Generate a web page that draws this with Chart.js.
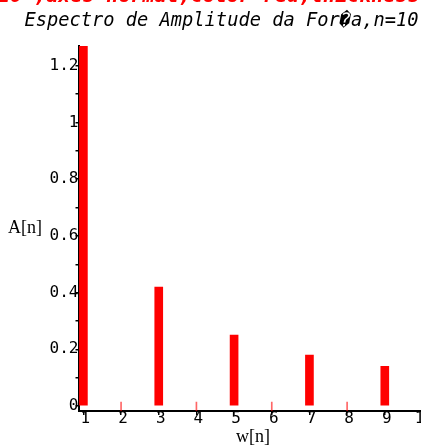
<!DOCTYPE html>
<html><head><meta charset="utf-8">
<script src="https://cdn.jsdelivr.net/npm/chart.js@4"></script>
<style>
html,body{margin:0;padding:0;background:#fff;overflow:hidden}
#wrap{width:421px;height:446px;overflow:hidden;position:relative;background:#fff}
canvas{display:block}
</style></head>
<body><div id="wrap"><canvas id="c" width="440" height="446"></canvas></div>
<script>
// Data
const oddN = [1, 3, 5, 7, 9];
const oddA = [1.27, 0.42, 0.25, 0.18, 0.14];
const evenN = [2, 4, 6, 8];
const evenA = [0, 0, 0, 0];
const xTicks = [1, 2, 3, 4, 5, 6, 7, 8, 9, 10];
const xTickLabels = ['1','2','3','4','5','6','7','8','9','10'];
const yTicks = [0, 0.1, 0.2, 0.3, 0.4, 0.5, 0.6, 0.7, 0.8, 0.9, 1.0, 1.1, 1.2];
const yTickLabels = ['0','','0.2','','0.4','','0.6','','0.8','','1','','1.2'];
const titleText = 'Espectro de Amplitude da For\uFFFDa,n=10';
const headerText = '10 ,axes=normal,color=red,thickness=3);';
const yTitle = 'A[n]';
const xTitle = 'w[n]';

const mono = '"DejaVu Sans Mono", monospace';
const serif = '"Liberation Serif", "Times New Roman", serif';

const textPlugin = {
  id: 'texts',
  afterDraw(chart) {
    const ctx = chart.ctx;
    ctx.save();
    ctx.fillStyle = '#ff0000';
    ctx.font = 'bold italic 20px ' + mono;
    ctx.textAlign = 'left';
    ctx.textBaseline = 'alphabetic';
    ctx.fillText(headerText, -2, 2);
    ctx.fillStyle = '#000';
    ctx.font = 'italic 18.7px ' + mono;
    ctx.textAlign = 'center';
    ctx.fillText(titleText, 221.5, 26);
    ctx.font = '18px ' + serif;
    ctx.textBaseline = 'middle';
    ctx.textAlign = 'center';
    ctx.fillText(yTitle, 25, 228);
    ctx.fillText(xTitle, 253, 437);
    ctx.restore();
  }
};

new Chart(document.getElementById('c'), {
  type: 'bar',
  data: {
    datasets: [
      {
        data: oddN.map((n, i) => ({x: n, y: oddA[i]})),
        backgroundColor: '#ff0000',
        barThickness: 8,
        grouped: false
      },
      {
        data: evenN.map((n, i) => ({x: n, y: [evenA[i] - 0.0175, evenA[i] + 0.014]})),
        backgroundColor: 'rgba(255,0,0,0.6)',
        barThickness: 1,
        grouped: false
      }
    ]
  },
  options: {
    responsive: false,
    animation: false,
    devicePixelRatio: 1,
    layout: {padding: {top: 46, right: 10, left: 0, bottom: 0}},
    plugins: {legend: {display: false}, tooltip: {enabled: false}, title: {display: false}},
    scales: {
      x: {
        type: 'linear',
        min: 0.87,
        max: 10.2,
        offset: false,
        afterBuildTicks: s => { s.ticks = xTicks.map(v => ({value: v})); },
        afterFit: s => { s.height = 35; },
        grid: {offset: false, drawOnChartArea: false, drawTicks: true, tickLength: 4, color: '#000', lineWidth: 1.5},
        border: {display: true, color: '#000', width: 2},
        ticks: {
          autoSkip: false, maxRotation: 0, color: '#000', padding: -6, labelOffset: 2,
          font: {family: mono, size: 16},
          callback: (v, i) => xTickLabels[i]
        }
      },
      y: {
        type: 'linear',
        min: -0.0175,
        max: 1.27,
        afterBuildTicks: s => { s.ticks = yTicks.map(v => ({value: v})); },
        afterFit: s => { s.width = 78.5; },
        grid: {drawOnChartArea: false, drawTicks: true, tickLength: 3, color: '#000', lineWidth: 1.5},
        border: {display: true, color: '#000', width: 2},
        ticks: {
          autoSkip: false, color: '#000', padding: -3,
          font: {family: mono, size: 16},
          callback: (v, i) => yTickLabels[i]
        }
      }
    }
  },
  plugins: [textPlugin]
});
</script>
</body></html>
